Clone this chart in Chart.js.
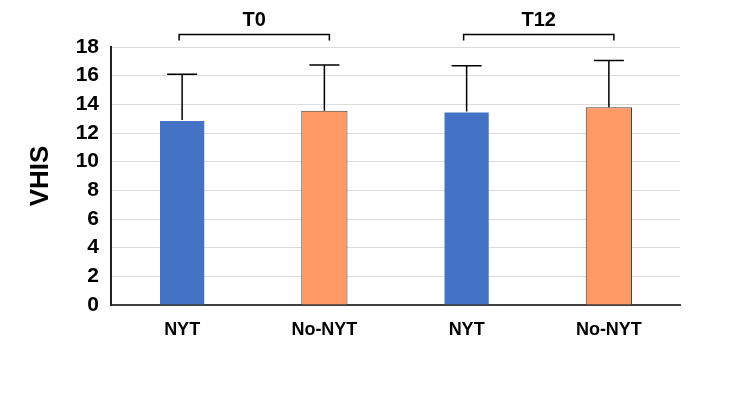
<!DOCTYPE html>
<html>
<head>
<meta charset="utf-8">
<script src="https://cdn.jsdelivr.net/npm/chart.js@4/dist/chart.umd.min.js"></script>
<style>
  html, body { margin: 0; padding: 0; background: #fff; }
  #wrap { width: 750px; height: 416px; }
</style>
</head>
<body>
<div id="wrap"><canvas id="chart" width="750" height="416"></canvas></div>
<script>
const categories = ['NYT', 'No-NYT', 'NYT', 'No-NYT'];
const means = [12.9, 13.55, 13.5, 13.8];
const sds = [3.2, 3.2, 3.2, 3.25];
const barColors = ['#4472C4', '#FF9966', '#4472C4', '#FF9966'];
const groups = [
  {label: 'T0', from: 0, to: 1},
  {label: 'T12', from: 2, to: 3},
];
const yTitle = 'VHIS';

const FONT = "'Liberation Sans', Arial, sans-serif";

const extrasPlugin = {
  id: 'extras',
  afterDatasetsDraw(chart) {
    const {ctx, scales: {y}} = chart;
    const meta = chart.getDatasetMeta(0);
    ctx.save();
    ctx.strokeStyle = '#000';
    ctx.lineWidth = 1.5;
    meta.data.forEach((bar, i) => {
      const top = y.getPixelForValue(means[i] + sds[i]);
      const base = y.getPixelForValue(means[i]);
      ctx.beginPath();
      ctx.moveTo(bar.x, base);
      ctx.lineTo(bar.x, top);
      ctx.moveTo(bar.x - 15, top);
      ctx.lineTo(bar.x + 15, top);
      ctx.stroke();
    });
    ctx.restore();
  },
  afterDraw(chart) {
    const {ctx} = chart;
    const meta = chart.getDatasetMeta(0);
    ctx.save();
    ctx.strokeStyle = '#000';
    ctx.lineWidth = 1.5;
    ctx.fillStyle = '#000';
    ctx.font = 'bold 20px ' + FONT;
    ctx.textAlign = 'center';
    ctx.textBaseline = 'middle';
    groups.forEach(g => {
      const x1 = meta.data[g.from].x - 3;
      const x2 = meta.data[g.to].x + 5;
      const yb = 34.5;
      ctx.beginPath();
      ctx.moveTo(x1, yb + 6);
      ctx.lineTo(x1, yb);
      ctx.lineTo(x2, yb);
      ctx.lineTo(x2, yb + 6);
      ctx.stroke();
      ctx.fillText(g.label, (x1 + x2) / 2, 20);
    });
    ctx.restore();
  }
};

const ctx = document.getElementById('chart');
const chart = new Chart(ctx, {
  type: 'bar',
  data: {
    labels: categories,
    datasets: [{
      data: means,
      backgroundColor: barColors,
      borderColor: ['rgba(0,0,0,0)', '#404040', 'rgba(0,0,0,0)', '#404040'],
      borderWidth: 1,
      barPercentage: 0.325,
      categoryPercentage: 1,
    }]
  },
  options: {
    responsive: false,
    animation: false,
    layout: {padding: {top: 47, right: 70, left: 0, bottom: 0}},
    plugins: {legend: {display: false}, tooltip: {enabled: false}},
    scales: {
      x: {
        grid: {display: false},
        border: {color: '#404040', width: 2},
        ticks: {color: '#000', font: {family: FONT, size: 18, weight: 'bold'}, padding: 6},
        afterFit(scale) { scale.height = 111; }
      },
      y: {
        min: 0,
        max: 18,
        ticks: {stepSize: 2, color: '#000', font: {family: FONT, size: 21, weight: 'bold'}, padding: 12},
        grid: {color: '#dcdcdc', drawTicks: false},
        border: {color: '#222', width: 2},
        title: {display: true, text: yTitle, color: '#000', font: {family: FONT, size: 26, weight: 'bold'}, padding: {top: 25, bottom: 0}},
        afterFit(scale) { scale.width = 111; }
      }
    }
  },
  plugins: [extrasPlugin]
});
</script>
</body>
</html>
